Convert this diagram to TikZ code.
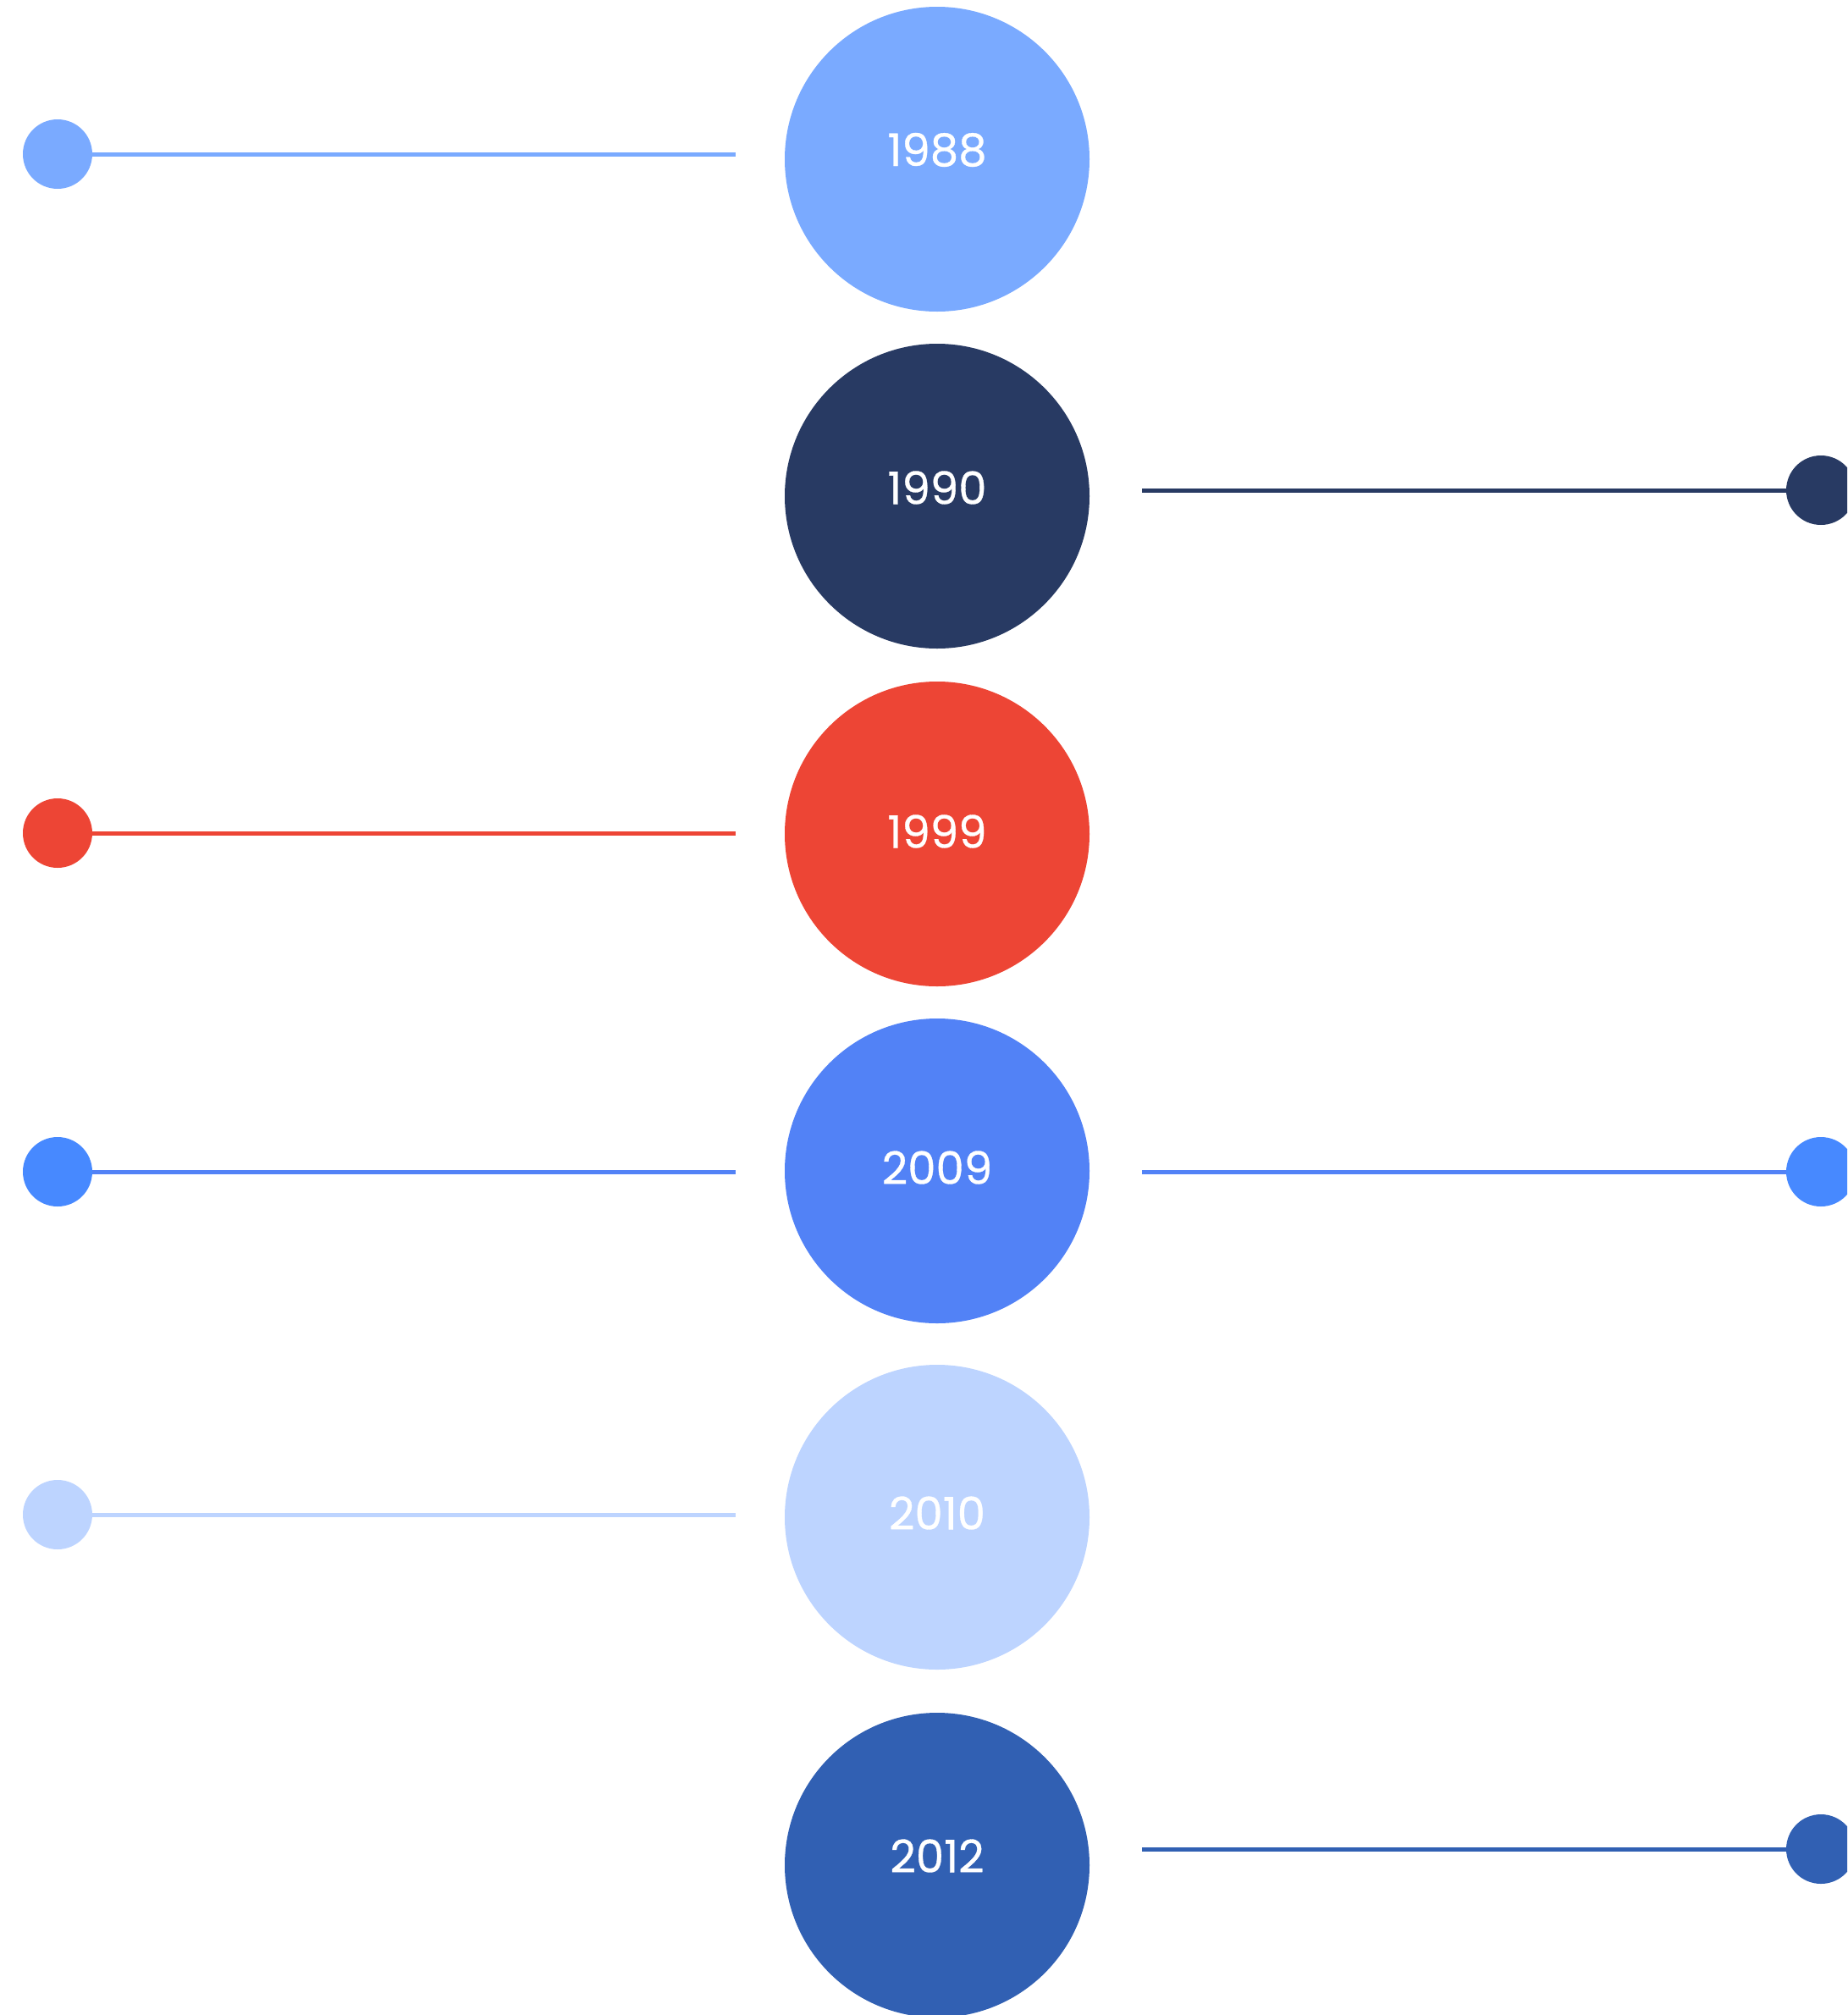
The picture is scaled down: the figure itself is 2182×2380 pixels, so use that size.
\documentclass[tikz,border=0pt]{standalone}
\usepackage{fontspec}
\setmainfont{Poppins}
\newfontfamily\yrfont[FakeBold=0.6]{Poppins}
\definecolor{cA}{HTML}{7AAAFF}
\definecolor{cB}{HTML}{283A63}
\definecolor{cC}{HTML}{ED4535}
\definecolor{cD}{HTML}{5282F6}
\definecolor{cDdot}{HTML}{4789FF}
\definecolor{cE}{HTML}{BDD4FF}
\definecolor{cF}{HTML}{3160B3}
\tikzset{
  bigc/.style={circle, minimum size=360pt, inner sep=0pt, fill=#1},
  yr/.style={text=white, inner sep=0pt, font=\yrfont\fontsize{53}{60}\selectfont},
  dotc/.style={circle, minimum size=82pt, inner sep=0pt, fill=#1},
  conn/.style={draw=#1, line width=5pt}
}
\begin{document}
\begin{tikzpicture}[x=1pt,y=-1pt]
\useasboundingbox (0,0) rectangle (2182,2380);
\clip (0,0) rectangle (2182,2380);
% 1988
\node[bigc=cA] (c1) at (1107,188) {};
\node[yr] (t1) at (1107,177) {1988};
\node[dotc=cA] (l1) at (68,182) {};
\coordinate (e1) at (869,182);
\draw[conn=cA] (l1.east) -- (e1);
% 1990
\node[bigc=cB] (c2) at (1107,586) {};
\node[yr] (t2) at (1107,576) {1990};
\node[dotc=cB] (r2) at (2151,579) {};
\coordinate (s2) at (1349,579);
\draw[conn=cB] (s2) -- (r2.west);
% 1999
\node[bigc=cC] (c3) at (1107,985) {};
\node[yr] (t3) at (1107,982) {1999};
\node[dotc=cC] (l3) at (68,984) {};
\coordinate (e3) at (869,984);
\draw[conn=cC] (l3.east) -- (e3);
% 2009
\node[bigc=cD] (c4) at (1107,1383) {};
\node[yr] (t4) at (1107,1379) {2009};
\node[dotc=cDdot] (l4) at (68,1384) {};
\coordinate (e4) at (869,1384);
\draw[conn=cD] (l4.east) -- (e4);
\node[dotc=cDdot] (r4) at (2151,1384) {};
\coordinate (s4) at (1349,1384);
\draw[conn=cD] (s4) -- (r4.west);
% 2010
\node[bigc=cE] (c5) at (1107,1792) {};
\node[yr] (t5) at (1107,1787) {2010};
\node[dotc=cE] (l5) at (68,1789) {};
\coordinate (e5) at (869,1789);
\draw[conn=cE] (l5.east) -- (e5);
% 2012
\node[bigc=cF] (c6) at (1107,2203) {};
\node[yr] (t6) at (1107,2192) {2012};
\node[dotc=cF] (r6) at (2151,2184) {};
\coordinate (s6) at (1349,2184);
\draw[conn=cF] (s6) -- (r6.west);
\end{tikzpicture}
\end{document}
